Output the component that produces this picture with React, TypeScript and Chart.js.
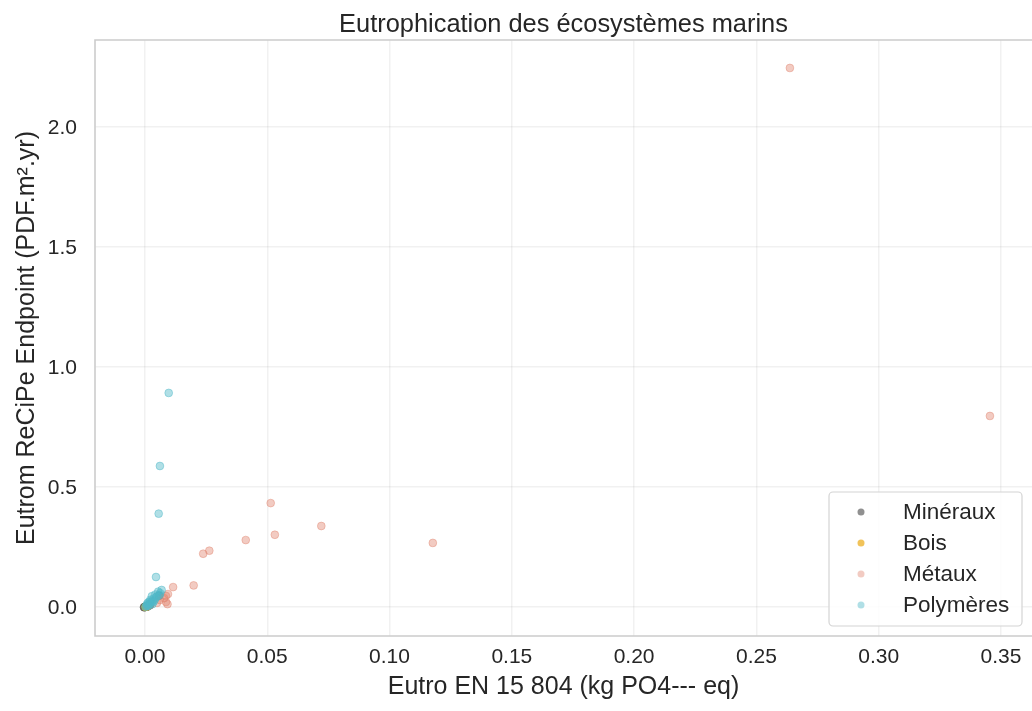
import { useEffect, useRef } from 'react';
import { Chart, registerables } from 'chart.js';

Chart.register(...registerables);

const FONT = '"Liberation Sans", Arial, Helvetica, sans-serif';
const TEXT = '#262626';

const titleText = 'Eutrophication des écosystèmes marins';
const xAxisLabel = 'Eutro EN 15 804 (kg PO4--- eq)';
const yAxisLabel = 'Eutrom ReCiPe Endpoint (PDF.m².yr)';

const xTicks = [0, 0.05, 0.1, 0.15, 0.2, 0.25, 0.3, 0.35];
const yTicks = [0, 0.5, 1.0, 1.5, 2.0];

const seriesNames = ['Minéraux', 'Bois', 'Métaux', 'Polymères'];
const seriesColors = [
  'rgba(70, 70, 70, 0.6)',
  'rgba(235, 170, 20, 0.7)',
  'rgba(225, 130, 110, 0.42)',
  'rgba(80, 185, 200, 0.45)',
];

// [x, y] pairs
const mineraux: [number, number][] = [
  [0.0, 0.0], [-0.0004, -0.001], [0.0003, 0.001], [0.0006, 0.002], [0.001, 0.004],
  [0.0015, 0.006], [0.0002, 0.002], [0.0058, 0.047], [0.002, 0.008], [0.0008, 0.001],
];
const bois: [number, number][] = [
  [0.0004, 0.001], [0.0009, 0.003], [0.0013, 0.005], [0.0002, 0.0005],
];
const metaux: [number, number][] = [
  [0.2637, 2.246], [0.3455, 0.796], [0.1177, 0.267], [0.0721, 0.3375], [0.0514, 0.433],
  [0.0531, 0.301], [0.0412, 0.279], [0.0263, 0.2346], [0.0238, 0.222], [0.0199, 0.09],
  [0.0115, 0.083], [0.0094, 0.054], [0.0086, 0.046], [0.0086, 0.021], [0.0078, 0.037],
  [0.0061, 0.029], [0.0049, 0.017], [0.002, 0.008], [0.001, 0.004], [0.0092, 0.012],
];
const polymeres: [number, number][] = [
  [0.0097, 0.892], [0.0061, 0.5875], [0.0056, 0.389], [0.0045, 0.125],
  [0.0068, 0.071], [0.0054, 0.064], [0.006, 0.05], [0.0045, 0.04], [0.0035, 0.035],
  [0.003, 0.025], [0.0025, 0.02], [0.002, 0.015], [0.0015, 0.01], [0.001, 0.006],
  [0.0005, 0.003], [0.0002, 0.001], [0.004, 0.03], [0.005, 0.045], [0.0028, 0.045],
  [0.0022, 0.03], [0.0012, 0.018], [0.0035, 0.022], [0.0008, 0.012], [0.0062, 0.058],
  [0.0015, 0.004], [0.003, 0.012], [0.0018, 0.022], [0.0042, 0.052],
];

const seriesData = [mineraux, bois, metaux, polymeres];
const drawOrder = [3, 2, 1, 0];

const X_MIN = -0.02044;
const X_MAX = 0.3627;
const Y_MIN = -0.1208;
const Y_MAX = 2.3625;

const framePlugin = {
  id: 'frame',
  beforeDatasetsDraw(chart: any) {
    const { ctx, chartArea } = chart;
    ctx.save();
    ctx.strokeStyle = '#cccccc';
    ctx.lineWidth = 1.6;
    ctx.beginPath();
    ctx.moveTo(chartArea.right + 2, chartArea.top);
    ctx.lineTo(chartArea.left, chartArea.top);
    ctx.lineTo(chartArea.left, chartArea.bottom);
    ctx.lineTo(chartArea.right + 2, chartArea.bottom);
    ctx.stroke();
    ctx.restore();
  },
};

const titlePlugin = {
  id: 'centeredTitle',
  afterDraw(chart: any) {
    const { ctx, chartArea } = chart;
    ctx.save();
    ctx.font = `25.4px ${FONT}`;
    ctx.fillStyle = TEXT;
    ctx.textAlign = 'center';
    ctx.textBaseline = 'alphabetic';
    ctx.fillText(titleText, (chartArea.left + chartArea.right) / 2, chartArea.top - 8);
    ctx.restore();
  },
};

const legendPlugin = {
  id: 'innerLegend',
  afterDraw(chart: any) {
    const { ctx, chartArea } = chart;
    const w = 193;
    const h = 134;
    const x0 = chartArea.right - 10 - w;
    const y0 = chartArea.bottom - 10 - h;
    ctx.save();
    ctx.fillStyle = 'rgba(255,255,255,0.85)';
    ctx.strokeStyle = '#d4d4d4';
    ctx.lineWidth = 1.2;
    ctx.beginPath();
    ctx.roundRect(x0, y0, w, h, 4);
    ctx.fill();
    ctx.stroke();
    ctx.font = `22.5px ${FONT}`;
    ctx.textAlign = 'left';
    ctx.textBaseline = 'middle';
    chart.data.datasets.forEach((ds: any, i: number) => {
      const cy = y0 + 20 + i * 31;
      ctx.fillStyle = ds.backgroundColor;
      ctx.beginPath();
      ctx.arc(x0 + 32, cy, 3.5, 0, Math.PI * 2);
      ctx.fill();
      ctx.fillStyle = TEXT;
      ctx.fillText(ds.label, x0 + 74, cy + 1);
    });
    ctx.restore();
  },
};

export default function App() {
  const ref = useRef<HTMLCanvasElement>(null);

  useEffect(() => {
    if (!ref.current) return;
    const chart = new Chart(ref.current, {
      type: 'scatter',
      data: {
        datasets: seriesNames.map((name, i) => ({
          label: name,
          data: seriesData[i].map(([x, y]) => ({ x, y })),
          backgroundColor: seriesColors[i],
          borderColor: seriesColors[i],
          borderWidth: 1,
          pointRadius: 3.9,
          order: drawOrder[i],
        })),
      },
      options: {
        responsive: false,
        animation: false,
        events: [],
        layout: { autoPadding: false, padding: { top: 40, left: 0, right: 0, bottom: 0 } },
        plugins: {
          legend: { display: false },
          title: { display: false },
          tooltip: { enabled: false },
        },
        scales: {
          x: {
            type: 'linear',
            min: X_MIN,
            max: X_MAX,
            afterBuildTicks: (s: any) => {
              s.ticks = xTicks.map((v) => ({ value: v }));
            },
            afterFit: (s: any) => {
              s.height = 75;
              s.paddingLeft = 0;
              s.paddingRight = 0;
            },
            ticks: {
              callback: (v: any) => Number(v).toFixed(2),
              font: { family: FONT, size: 21 },
              color: TEXT,
              padding: 9,
              maxRotation: 0,
              autoSkip: false,
            },
            grid: { color: 'rgba(0,0,0,0.055)', lineWidth: 1.5, drawTicks: false },
            border: { display: false },
            title: {
              display: true,
              text: xAxisLabel,
              font: { family: FONT, size: 25 },
              color: TEXT,
              padding: { top: 2, bottom: 9 },
            },
          },
          y: {
            type: 'linear',
            min: Y_MIN,
            max: Y_MAX,
            afterBuildTicks: (s: any) => {
              s.ticks = yTicks.map((v) => ({ value: v }));
            },
            afterFit: (s: any) => {
              s.width = 95;
              s.paddingTop = 0;
              s.paddingBottom = 0;
            },
            ticks: {
              callback: (v: any) => Number(v).toFixed(1),
              font: { family: FONT, size: 21 },
              color: TEXT,
              padding: 18,
              labelOffset: 1.5,
              autoSkip: false,
            },
            grid: { color: 'rgba(0,0,0,0.055)', lineWidth: 1.5, drawTicks: false },
            border: { display: false },
            title: {
              display: true,
              text: yAxisLabel,
              font: { family: FONT, size: 25 },
              color: TEXT,
              padding: { top: 12, bottom: 4 },
            },
          },
        },
      },
      plugins: [framePlugin, titlePlugin, legendPlugin],
    } as any);
    return () => chart.destroy();
  }, []);

  return (
    <div style={{ position: 'fixed', left: 0, top: 0, width: 1032, height: 711, background: '#fff' }}>
      <canvas ref={ref} width={1032} height={711} />
    </div>
  );
}
